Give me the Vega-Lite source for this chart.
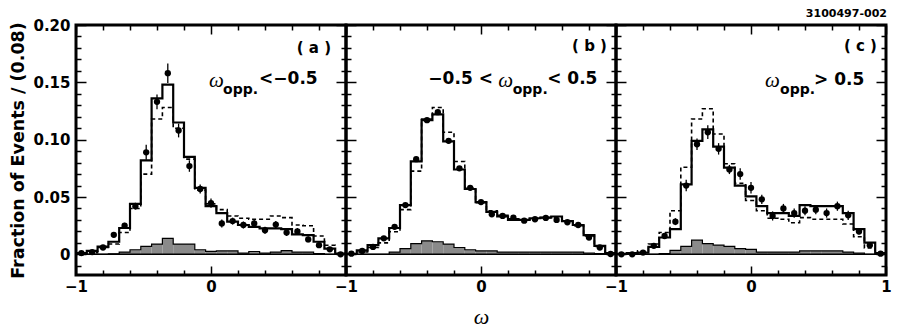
{
  "$schema": "https://vega.github.io/schema/vega-lite/v6.json",
  "padding": {"left": 8, "top": 6, "right": 5, "bottom": 3},
  "background": "white",
  "spacing": 0,
  "bounds": "flush",
  "datasets": {
    "bins": [
      {"panel":"a","x0":-1,"x1":-0.92,"w":-0.96,"data":0.001,"err":0.001,"mc":0.001,"mc2":0.0005,"bkg":0},
      {"panel":"a","x0":-0.92,"x1":-0.84,"w":-0.88,"data":0.002,"err":0.001,"mc":0.003,"mc2":0.0015,"bkg":0},
      {"panel":"a","x0":-0.84,"x1":-0.76,"w":-0.8,"data":0.006,"err":0.0015,"mc":0.0068,"mc2":0.006,"bkg":0},
      {"panel":"a","x0":-0.76,"x1":-0.68,"w":-0.72,"data":0.017,"err":0.002,"mc":0.011,"mc2":0.009,"bkg":0.0005},
      {"panel":"a","x0":-0.68,"x1":-0.6,"w":-0.64,"data":0.025,"err":0.0025,"mc":0.023,"mc2":0.019,"bkg":0.002},
      {"panel":"a","x0":-0.6,"x1":-0.52,"w":-0.56,"data":0.042,"err":0.003,"mc":0.044,"mc2":0.04,"bkg":0.004},
      {"panel":"a","x0":-0.52,"x1":-0.44,"w":-0.48,"data":0.089,"err":0.0065,"mc":0.082,"mc2":0.07,"bkg":0.007},
      {"panel":"a","x0":-0.44,"x1":-0.36,"w":-0.4,"data":0.133,"err":0.0065,"mc":0.136,"mc2":0.118,"bkg":0.009},
      {"panel":"a","x0":-0.36,"x1":-0.28,"w":-0.32,"data":0.158,"err":0.0085,"mc":0.148,"mc2":0.128,"bkg":0.014},
      {"panel":"a","x0":-0.28,"x1":-0.2,"w":-0.24,"data":0.108,"err":0.006,"mc":0.115,"mc2":0.11,"bkg":0.009},
      {"panel":"a","x0":-0.2,"x1":-0.12,"w":-0.16,"data":0.077,"err":0.005,"mc":0.085,"mc2":0.083,"bkg":0.009},
      {"panel":"a","x0":-0.12,"x1":-0.04,"w":-0.08,"data":0.057,"err":0.004,"mc":0.058,"mc2":0.056,"bkg":0.004},
      {"panel":"a","x0":-0.04,"x1":0.04,"w":0,"data":0.0447,"err":0.004,"mc":0.042,"mc2":0.044,"bkg":0.0026},
      {"panel":"a","x0":0.04,"x1":0.12,"w":0.08,"data":0.027,"err":0.0035,"mc":0.036,"mc2":0.039,"bkg":0.003},
      {"panel":"a","x0":0.12,"x1":0.2,"w":0.16,"data":0.029,"err":0.003,"mc":0.0285,"mc2":0.0335,"bkg":0.003},
      {"panel":"a","x0":0.2,"x1":0.28,"w":0.24,"data":0.0256,"err":0.003,"mc":0.0256,"mc2":0.0315,"bkg":0.001},
      {"panel":"a","x0":0.28,"x1":0.36,"w":0.32,"data":0.027,"err":0.003,"mc":0.024,"mc2":0.0306,"bkg":0.0025},
      {"panel":"a","x0":0.36,"x1":0.44,"w":0.4,"data":0.021,"err":0.003,"mc":0.0226,"mc2":0.0306,"bkg":0.001},
      {"panel":"a","x0":0.44,"x1":0.52,"w":0.48,"data":0.026,"err":0.003,"mc":0.0226,"mc2":0.0335,"bkg":0.002},
      {"panel":"a","x0":0.52,"x1":0.6,"w":0.56,"data":0.019,"err":0.003,"mc":0.022,"mc2":0.032,"bkg":0.0033},
      {"panel":"a","x0":0.6,"x1":0.68,"w":0.64,"data":0.02,"err":0.003,"mc":0.0174,"mc2":0.0256,"bkg":0.002},
      {"panel":"a","x0":0.68,"x1":0.76,"w":0.72,"data":0.013,"err":0.0025,"mc":0.0168,"mc2":0.025,"bkg":0.002},
      {"panel":"a","x0":0.76,"x1":0.84,"w":0.8,"data":0.008,"err":0.002,"mc":0.011,"mc2":0.016,"bkg":0.0007},
      {"panel":"a","x0":0.84,"x1":0.92,"w":0.88,"data":0.0044,"err":0.0015,"mc":0.005,"mc2":0.008,"bkg":0},
      {"panel":"a","x0":0.92,"x1":1,"w":0.96,"data":0,"err":0.001,"mc":0.0006,"mc2":0.001,"bkg":0},

      {"panel":"b","x0":-1,"x1":-0.92,"w":-0.96,"data":0.0006,"err":0.0005,"mc":0.0005,"mc2":0.0005,"bkg":0},
      {"panel":"b","x0":-0.92,"x1":-0.84,"w":-0.88,"data":0.003,"err":0.0007,"mc":0.0035,"mc2":0.002,"bkg":0},
      {"panel":"b","x0":-0.84,"x1":-0.76,"w":-0.8,"data":0.0065,"err":0.001,"mc":0.008,"mc2":0.006,"bkg":0},
      {"panel":"b","x0":-0.76,"x1":-0.68,"w":-0.72,"data":0.014,"err":0.001,"mc":0.014,"mc2":0.01,"bkg":0},
      {"panel":"b","x0":-0.68,"x1":-0.6,"w":-0.64,"data":0.024,"err":0.0015,"mc":0.023,"mc2":0.0197,"bkg":0.002},
      {"panel":"b","x0":-0.6,"x1":-0.52,"w":-0.56,"data":0.043,"err":0.0015,"mc":0.043,"mc2":0.039,"bkg":0.005},
      {"panel":"b","x0":-0.52,"x1":-0.44,"w":-0.48,"data":0.083,"err":0.002,"mc":0.081,"mc2":0.0726,"bkg":0.0094},
      {"panel":"b","x0":-0.44,"x1":-0.36,"w":-0.4,"data":0.117,"err":0.002,"mc":0.117,"mc2":0.118,"bkg":0.0118},
      {"panel":"b","x0":-0.36,"x1":-0.28,"w":-0.32,"data":0.124,"err":0.002,"mc":0.122,"mc2":0.128,"bkg":0.011},
      {"panel":"b","x0":-0.28,"x1":-0.2,"w":-0.24,"data":0.099,"err":0.002,"mc":0.0985,"mc2":0.1065,"bkg":0.009},
      {"panel":"b","x0":-0.2,"x1":-0.12,"w":-0.16,"data":0.075,"err":0.002,"mc":0.074,"mc2":0.081,"bkg":0.006},
      {"panel":"b","x0":-0.12,"x1":-0.04,"w":-0.08,"data":0.058,"err":0.0015,"mc":0.057,"mc2":0.058,"bkg":0.004},
      {"panel":"b","x0":-0.04,"x1":0.04,"w":0,"data":0.0456,"err":0.0015,"mc":0.0456,"mc2":0.045,"bkg":0.003},
      {"panel":"b","x0":0.04,"x1":0.12,"w":0.08,"data":0.035,"err":0.0015,"mc":0.037,"mc2":0.038,"bkg":0.003},
      {"panel":"b","x0":0.12,"x1":0.2,"w":0.16,"data":0.0335,"err":0.0015,"mc":0.033,"mc2":0.034,"bkg":0.002},
      {"panel":"b","x0":0.2,"x1":0.28,"w":0.24,"data":0.032,"err":0.0012,"mc":0.03,"mc2":0.031,"bkg":0.002},
      {"panel":"b","x0":0.28,"x1":0.36,"w":0.32,"data":0.0294,"err":0.0012,"mc":0.03,"mc2":0.03,"bkg":0.002},
      {"panel":"b","x0":0.36,"x1":0.44,"w":0.4,"data":0.0306,"err":0.0012,"mc":0.0315,"mc2":0.031,"bkg":0.002},
      {"panel":"b","x0":0.44,"x1":0.52,"w":0.48,"data":0.0318,"err":0.0012,"mc":0.032,"mc2":0.032,"bkg":0.002},
      {"panel":"b","x0":0.52,"x1":0.6,"w":0.56,"data":0.03,"err":0.0012,"mc":0.033,"mc2":0.032,"bkg":0.002},
      {"panel":"b","x0":0.6,"x1":0.68,"w":0.64,"data":0.028,"err":0.0012,"mc":0.029,"mc2":0.029,"bkg":0.002},
      {"panel":"b","x0":0.68,"x1":0.76,"w":0.72,"data":0.0256,"err":0.0012,"mc":0.0256,"mc2":0.025,"bkg":0.002},
      {"panel":"b","x0":0.76,"x1":0.84,"w":0.8,"data":0.0147,"err":0.001,"mc":0.0168,"mc2":0.016,"bkg":0.001},
      {"panel":"b","x0":0.84,"x1":0.92,"w":0.88,"data":0.006,"err":0.0008,"mc":0.0074,"mc2":0.007,"bkg":0.0006},
      {"panel":"b","x0":0.92,"x1":1,"w":0.96,"data":0.0003,"err":0.0005,"mc":0.001,"mc2":0.001,"bkg":0},

      {"panel":"c","x0":-1,"x1":-0.92,"w":-0.96,"data":0,"err":0.0008,"mc":0.0005,"mc2":0.0005,"bkg":0},
      {"panel":"c","x0":-0.92,"x1":-0.84,"w":-0.88,"data":0,"err":0.0008,"mc":0.001,"mc2":0.001,"bkg":0},
      {"panel":"c","x0":-0.84,"x1":-0.76,"w":-0.8,"data":0.0015,"err":0.001,"mc":0.0015,"mc2":0.003,"bkg":0},
      {"panel":"c","x0":-0.76,"x1":-0.68,"w":-0.72,"data":0.0074,"err":0.0015,"mc":0.0065,"mc2":0.009,"bkg":0},
      {"panel":"c","x0":-0.68,"x1":-0.6,"w":-0.64,"data":0.016,"err":0.002,"mc":0.0147,"mc2":0.019,"bkg":0.0006},
      {"panel":"c","x0":-0.6,"x1":-0.52,"w":-0.56,"data":0.0285,"err":0.003,"mc":0.022,"mc2":0.038,"bkg":0.0035},
      {"panel":"c","x0":-0.52,"x1":-0.44,"w":-0.48,"data":0.06,"err":0.005,"mc":0.061,"mc2":0.076,"bkg":0.007},
      {"panel":"c","x0":-0.44,"x1":-0.36,"w":-0.4,"data":0.096,"err":0.005,"mc":0.099,"mc2":0.118,"bkg":0.0124},
      {"panel":"c","x0":-0.36,"x1":-0.28,"w":-0.32,"data":0.1065,"err":0.006,"mc":0.109,"mc2":0.127,"bkg":0.0094},
      {"panel":"c","x0":-0.28,"x1":-0.2,"w":-0.24,"data":0.092,"err":0.005,"mc":0.094,"mc2":0.105,"bkg":0.008},
      {"panel":"c","x0":-0.2,"x1":-0.12,"w":-0.16,"data":0.074,"err":0.004,"mc":0.0756,"mc2":0.079,"bkg":0.007},
      {"panel":"c","x0":-0.12,"x1":-0.04,"w":-0.08,"data":0.07,"err":0.005,"mc":0.06,"mc2":0.062,"bkg":0.005},
      {"panel":"c","x0":-0.04,"x1":0.04,"w":0,"data":0.058,"err":0.005,"mc":0.0506,"mc2":0.047,"bkg":0.0044},
      {"panel":"c","x0":0.04,"x1":0.12,"w":0.08,"data":0.048,"err":0.004,"mc":0.042,"mc2":0.038,"bkg":0.002},
      {"panel":"c","x0":0.12,"x1":0.2,"w":0.16,"data":0.0335,"err":0.004,"mc":0.036,"mc2":0.0315,"bkg":0.002},
      {"panel":"c","x0":0.2,"x1":0.28,"w":0.24,"data":0.04,"err":0.004,"mc":0.036,"mc2":0.0306,"bkg":0.002},
      {"panel":"c","x0":0.28,"x1":0.36,"w":0.32,"data":0.036,"err":0.004,"mc":0.0335,"mc2":0.0276,"bkg":0.002},
      {"panel":"c","x0":0.36,"x1":0.44,"w":0.4,"data":0.038,"err":0.004,"mc":0.043,"mc2":0.032,"bkg":0.003},
      {"panel":"c","x0":0.44,"x1":0.52,"w":0.48,"data":0.039,"err":0.004,"mc":0.042,"mc2":0.0306,"bkg":0.003},
      {"panel":"c","x0":0.52,"x1":0.6,"w":0.56,"data":0.036,"err":0.004,"mc":0.042,"mc2":0.0306,"bkg":0.003},
      {"panel":"c","x0":0.6,"x1":0.68,"w":0.64,"data":0.042,"err":0.004,"mc":0.042,"mc2":0.0306,"bkg":0.003},
      {"panel":"c","x0":0.68,"x1":0.76,"w":0.72,"data":0.034,"err":0.004,"mc":0.036,"mc2":0.0265,"bkg":0.002},
      {"panel":"c","x0":0.76,"x1":0.84,"w":0.8,"data":0.02,"err":0.003,"mc":0.022,"mc2":0.0153,"bkg":0.001},
      {"panel":"c","x0":0.84,"x1":0.92,"w":0.88,"data":0.008,"err":0.002,"mc":0.0103,"mc2":0.0056,"bkg":0},
      {"panel":"c","x0":0.92,"x1":1,"w":0.96,"data":0.0006,"err":0.001,"mc":0.001,"mc2":0.0006,"bkg":0}
    ]
  },
  "hconcat": [
    {
      "width": 270, "height": 250,
      "data": {"name": "bins"},
      "transform": [{"filter": "datum.panel === 'a'"}],
      "resolve": {"axis": {"x": "independent", "y": "independent"}},
      "layer": [
        {
          "mark": {"type": "rect", "fill": "#8a8a8a"},
          "encoding": {
            "x": {"field": "x0", "type": "quantitative", "scale": {"domain": [-1, 1], "nice": false, "zero": false},
              "axis": {"orient": "bottom", "values": [-1, -0.8, -0.6, -0.4, -0.2, 0, 0.2, 0.4, 0.6, 0.8, 1],
                "labelExpr": "abs(datum.value+1)<1e-9 ? '−1' : (abs(datum.value)<1e-9 ? '0' : '')",
                "tickSize": {"condition": {"test": "abs(datum.value)<1e-9 || abs(abs(datum.value)-1)<1e-9", "value": -9}, "value": -5},
                "tickWidth": 1.5, "tickColor": "black", "domain": false, "grid": false, "labelPadding": 13,
                "labelFont": "DejaVu Sans", "labelFontSize": 15, "labelFontWeight": "bold", "labelColor": "black",
                "labelFlush": false, "labelOverlap": false, "labelBound": false, "title": null}},
            "x2": {"field": "x1"},
            "y": {"field": "bkg", "type": "quantitative", "scale": {"domain": [-0.018, 0.2], "nice": false, "zero": false},
              "axis": {"orient": "left", "values": [-0.01, 0, 0.01, 0.02, 0.03, 0.04, 0.05, 0.06, 0.07, 0.08, 0.09, 0.1, 0.11, 0.12, 0.13, 0.14, 0.15, 0.16, 0.17, 0.18, 0.19, 0.2],
                "labelExpr": "abs(datum.value)<1e-9 ? '0' : ((abs(datum.value*20-round(datum.value*20))<1e-6 && datum.value > 0) ? format(datum.value, '.2f') : '')",
                "tickSize": {"condition": {"test": "abs(datum.value*20-round(datum.value*20))<1e-6", "value": -10}, "value": -5},
                "tickWidth": 1.5, "tickColor": "black", "domain": false, "grid": false, "labelPadding": 16,
                "labelFont": "DejaVu Sans", "labelFontSize": 15, "labelFontWeight": "bold", "labelColor": "black",
                "labelOverlap": false, "labelBound": false, "labelFlush": false,
                "title": "Fraction of Events / (0.08)", "titleFont": "DejaVu Sans", "titleFontSize": 17.5, "titleFontWeight": "bold",
                "titleColor": "black", "titleBaseline": "alphabetic", "titlePadding": 9}},
            "y2": {"datum": 0}
          }
        },
        {
          "transform": [{"filter": "datum.x0 === -1"}],
          "mark": {"type": "rule", "color": "black", "strokeWidth": 1.5},
          "encoding": {"y": {"datum": 0, "type": "quantitative", "axis": null}}
        },
        {
          "transform": [{"fold": ["x0", "x1"], "as": ["edge", "xe"]}],
          "mark": {"type": "line", "color": "black", "strokeWidth": 1.2},
          "encoding": {
            "x": {"field": "xe", "type": "quantitative",
              "axis": {"orient": "top", "values": [-1, -0.8, -0.6, -0.4, -0.2, 0, 0.2, 0.4, 0.6, 0.8, 1], "labels": false,
                "tickSize": {"condition": {"test": "abs(datum.value)<1e-9 || abs(abs(datum.value)-1)<1e-9", "value": -9}, "value": -5},
                "tickWidth": 1.5, "tickColor": "black", "domain": false, "grid": false, "title": null}},
            "y": {"field": "bkg", "type": "quantitative",
              "axis": {"orient": "right", "values": [-0.01, 0, 0.01, 0.02, 0.03, 0.04, 0.05, 0.06, 0.07, 0.08, 0.09, 0.1, 0.11, 0.12, 0.13, 0.14, 0.15, 0.16, 0.17, 0.18, 0.19, 0.2], "labels": false,
                "tickSize": {"condition": {"test": "abs(datum.value*20-round(datum.value*20))<1e-6", "value": -10}, "value": -5},
                "tickWidth": 1.5, "tickColor": "black", "domain": false, "grid": false, "title": null}},
            "order": [{"field": "x0", "type": "quantitative"}, {"field": "edge", "type": "nominal"}]
          }
        },
        {
          "transform": [{"fold": ["x0", "x1"], "as": ["edge", "xe"]}],
          "mark": {"type": "line", "color": "black", "strokeWidth": 1.6, "strokeDash": [4, 3]},
          "encoding": {
            "x": {"field": "xe", "type": "quantitative", "axis": null},
            "y": {"field": "mc2", "type": "quantitative", "axis": null},
            "order": [{"field": "x0", "type": "quantitative"}, {"field": "edge", "type": "nominal"}]
          }
        },
        {
          "transform": [{"fold": ["x0", "x1"], "as": ["edge", "xe"]}],
          "mark": {"type": "line", "color": "black", "strokeWidth": 2.2},
          "encoding": {
            "x": {"field": "xe", "type": "quantitative", "axis": null},
            "y": {"field": "mc", "type": "quantitative", "axis": null},
            "order": [{"field": "x0", "type": "quantitative"}, {"field": "edge", "type": "nominal"}]
          }
        },
        {
          "mark": {"type": "errorbar", "color": "black", "thickness": 1.3},
          "encoding": {
            "x": {"field": "w", "type": "quantitative", "axis": null},
            "y": {"field": "data", "type": "quantitative", "axis": null},
            "yError": {"field": "err"}
          }
        },
        {
          "mark": {"type": "circle", "color": "black", "opacity": 1, "size": 40},
          "encoding": {
            "x": {"field": "w", "type": "quantitative", "axis": null},
            "y": {"field": "data", "type": "quantitative", "axis": null}
          }
        },
        {
          "transform": [{"filter": "datum.x0 === -1"}],
          "mark": {"type": "text", "font": "DejaVu Sans", "fontWeight": "bold", "fontSize": 15, "align": "right", "baseline": "alphabetic", "color": "black"},
          "encoding": {"x": {"datum": 0.889, "type": "quantitative", "axis": null}, "y": {"datum": 0.1755, "type": "quantitative", "axis": null}, "text": {"value": "( a )"}}
        },
        {
          "transform": [{"filter": "datum.x0 === -1"}],
          "mark": {"type": "text", "font": "Liberation Serif", "fontStyle": "italic", "fontSize": 21, "align": "left", "baseline": "alphabetic", "color": "black"},
          "encoding": {"x": {"datum": -0.015, "type": "quantitative", "axis": null}, "y": {"datum": 0.146, "type": "quantitative", "axis": null}, "text": {"value": "ω"}}
        },
        {
          "transform": [{"filter": "datum.x0 === -1"}],
          "mark": {"type": "text", "font": "DejaVu Sans", "fontWeight": "bold", "fontSize": 14, "align": "left", "baseline": "alphabetic", "color": "black"},
          "encoding": {"x": {"datum": 0.089, "type": "quantitative", "axis": null}, "y": {"datum": 0.14, "type": "quantitative", "axis": null}, "text": {"value": "opp."}}
        },
        {
          "transform": [{"filter": "datum.x0 === -1"}],
          "mark": {"type": "text", "font": "DejaVu Sans", "fontWeight": "bold", "fontSize": 17, "align": "left", "baseline": "alphabetic", "color": "black"},
          "encoding": {"x": {"datum": 0.356, "type": "quantitative", "axis": null}, "y": {"datum": 0.1486, "type": "quantitative", "axis": null}, "text": {"value": "<−0.5"}}
        }
      ]
    },
    {
      "width": 270, "height": 250,
      "data": {"name": "bins"},
      "transform": [{"filter": "datum.panel === 'b'"}],
      "resolve": {"axis": {"x": "independent", "y": "independent"}},
      "layer": [
        {
          "mark": {"type": "rect", "fill": "#8a8a8a"},
          "encoding": {
            "x": {"field": "x0", "type": "quantitative", "scale": {"domain": [-1, 1], "nice": false, "zero": false},
              "axis": {"orient": "bottom", "values": [-1, -0.8, -0.6, -0.4, -0.2, 0, 0.2, 0.4, 0.6, 0.8, 1],
                "labelExpr": "abs(datum.value+1)<1e-9 ? '−1' : (abs(datum.value)<1e-9 ? '0' : '')",
                "tickSize": {"condition": {"test": "abs(datum.value)<1e-9 || abs(abs(datum.value)-1)<1e-9", "value": -9}, "value": -5},
                "tickWidth": 1.5, "tickColor": "black", "domain": false, "grid": false, "labelPadding": 13,
                "labelFont": "DejaVu Sans", "labelFontSize": 15, "labelFontWeight": "bold", "labelColor": "black",
                "labelFlush": false, "labelOverlap": false, "labelBound": false,
                "title": "ω", "titleFont": "Liberation Serif", "titleFontStyle": "italic", "titleFontWeight": "normal",
                "titleFontSize": 22, "titleColor": "black", "titleBaseline": "alphabetic", "titlePadding": 25}},
            "x2": {"field": "x1"},
            "y": {"field": "bkg", "type": "quantitative", "scale": {"domain": [-0.018, 0.2], "nice": false, "zero": false},
              "axis": {"orient": "left", "values": [-0.01, 0, 0.01, 0.02, 0.03, 0.04, 0.05, 0.06, 0.07, 0.08, 0.09, 0.1, 0.11, 0.12, 0.13, 0.14, 0.15, 0.16, 0.17, 0.18, 0.19, 0.2], "labels": false,
                "tickSize": {"condition": {"test": "abs(datum.value*20-round(datum.value*20))<1e-6", "value": -10}, "value": -5},
                "tickWidth": 1.5, "tickColor": "black", "domain": false, "grid": false, "title": null}},
            "y2": {"datum": 0}
          }
        },
        {
          "transform": [{"filter": "datum.x0 === -1"}],
          "mark": {"type": "rule", "color": "black", "strokeWidth": 1.5},
          "encoding": {"y": {"datum": 0, "type": "quantitative", "axis": null}}
        },
        {
          "transform": [{"fold": ["x0", "x1"], "as": ["edge", "xe"]}],
          "mark": {"type": "line", "color": "black", "strokeWidth": 1.2},
          "encoding": {
            "x": {"field": "xe", "type": "quantitative",
              "axis": {"orient": "top", "values": [-1, -0.8, -0.6, -0.4, -0.2, 0, 0.2, 0.4, 0.6, 0.8, 1], "labels": false,
                "tickSize": {"condition": {"test": "abs(datum.value)<1e-9 || abs(abs(datum.value)-1)<1e-9", "value": -9}, "value": -5},
                "tickWidth": 1.5, "tickColor": "black", "domain": false, "grid": false, "title": null}},
            "y": {"field": "bkg", "type": "quantitative",
              "axis": {"orient": "right", "values": [-0.01, 0, 0.01, 0.02, 0.03, 0.04, 0.05, 0.06, 0.07, 0.08, 0.09, 0.1, 0.11, 0.12, 0.13, 0.14, 0.15, 0.16, 0.17, 0.18, 0.19, 0.2], "labels": false,
                "tickSize": {"condition": {"test": "abs(datum.value*20-round(datum.value*20))<1e-6", "value": -10}, "value": -5},
                "tickWidth": 1.5, "tickColor": "black", "domain": false, "grid": false, "title": null}},
            "order": [{"field": "x0", "type": "quantitative"}, {"field": "edge", "type": "nominal"}]
          }
        },
        {
          "transform": [{"fold": ["x0", "x1"], "as": ["edge", "xe"]}],
          "mark": {"type": "line", "color": "black", "strokeWidth": 1.6, "strokeDash": [4, 3]},
          "encoding": {
            "x": {"field": "xe", "type": "quantitative", "axis": null},
            "y": {"field": "mc2", "type": "quantitative", "axis": null},
            "order": [{"field": "x0", "type": "quantitative"}, {"field": "edge", "type": "nominal"}]
          }
        },
        {
          "transform": [{"fold": ["x0", "x1"], "as": ["edge", "xe"]}],
          "mark": {"type": "line", "color": "black", "strokeWidth": 2.2},
          "encoding": {
            "x": {"field": "xe", "type": "quantitative", "axis": null},
            "y": {"field": "mc", "type": "quantitative", "axis": null},
            "order": [{"field": "x0", "type": "quantitative"}, {"field": "edge", "type": "nominal"}]
          }
        },
        {
          "mark": {"type": "errorbar", "color": "black", "thickness": 1.3},
          "encoding": {
            "x": {"field": "w", "type": "quantitative", "axis": null},
            "y": {"field": "data", "type": "quantitative", "axis": null},
            "yError": {"field": "err"}
          }
        },
        {
          "mark": {"type": "circle", "color": "black", "opacity": 1, "size": 40},
          "encoding": {
            "x": {"field": "w", "type": "quantitative", "axis": null},
            "y": {"field": "data", "type": "quantitative", "axis": null}
          }
        },
        {
          "transform": [{"filter": "datum.x0 === -1"}],
          "mark": {"type": "text", "font": "DejaVu Sans", "fontWeight": "bold", "fontSize": 15, "align": "right", "baseline": "alphabetic", "color": "black"},
          "encoding": {"x": {"datum": 0.933, "type": "quantitative", "axis": null}, "y": {"datum": 0.1776, "type": "quantitative", "axis": null}, "text": {"value": "( b )"}}
        },
        {
          "transform": [{"filter": "datum.x0 === -1"}],
          "mark": {"type": "text", "font": "DejaVu Sans", "fontWeight": "bold", "fontSize": 17, "align": "left", "baseline": "alphabetic", "color": "black"},
          "encoding": {"x": {"datum": -0.39, "type": "quantitative", "axis": null}, "y": {"datum": 0.1486, "type": "quantitative", "axis": null}, "text": {"value": "−0.5 <"}}
        },
        {
          "transform": [{"filter": "datum.x0 === -1"}],
          "mark": {"type": "text", "font": "Liberation Serif", "fontStyle": "italic", "fontSize": 21, "align": "left", "baseline": "alphabetic", "color": "black"},
          "encoding": {"x": {"datum": 0.128, "type": "quantitative", "axis": null}, "y": {"datum": 0.146, "type": "quantitative", "axis": null}, "text": {"value": "ω"}}
        },
        {
          "transform": [{"filter": "datum.x0 === -1"}],
          "mark": {"type": "text", "font": "DejaVu Sans", "fontWeight": "bold", "fontSize": 14, "align": "left", "baseline": "alphabetic", "color": "black"},
          "encoding": {"x": {"datum": 0.235, "type": "quantitative", "axis": null}, "y": {"datum": 0.14, "type": "quantitative", "axis": null}, "text": {"value": "opp."}}
        },
        {
          "transform": [{"filter": "datum.x0 === -1"}],
          "mark": {"type": "text", "font": "DejaVu Sans", "fontWeight": "bold", "fontSize": 17, "align": "left", "baseline": "alphabetic", "color": "black"},
          "encoding": {"x": {"datum": 0.49, "type": "quantitative", "axis": null}, "y": {"datum": 0.1486, "type": "quantitative", "axis": null}, "text": {"value": "< 0.5"}}
        }
      ]
    },
    {
      "width": 270, "height": 250,
      "data": {"name": "bins"},
      "transform": [{"filter": "datum.panel === 'c'"}],
      "resolve": {"axis": {"x": "independent", "y": "independent"}},
      "layer": [
        {
          "mark": {"type": "rect", "fill": "#8a8a8a"},
          "encoding": {
            "x": {"field": "x0", "type": "quantitative", "scale": {"domain": [-1, 1], "nice": false, "zero": false},
              "axis": {"orient": "bottom", "values": [-1, -0.8, -0.6, -0.4, -0.2, 0, 0.2, 0.4, 0.6, 0.8, 1],
                "labelExpr": "abs(datum.value+1)<1e-9 ? '−1' : (abs(datum.value)<1e-9 ? '0' : (abs(datum.value-1)<1e-9 ? '1' : ''))",
                "tickSize": {"condition": {"test": "abs(datum.value)<1e-9 || abs(abs(datum.value)-1)<1e-9", "value": -9}, "value": -5},
                "tickWidth": 1.5, "tickColor": "black", "domain": false, "grid": false, "labelPadding": 13,
                "labelFont": "DejaVu Sans", "labelFontSize": 15, "labelFontWeight": "bold", "labelColor": "black",
                "labelFlush": false, "labelOverlap": false, "labelBound": false, "title": null}},
            "x2": {"field": "x1"},
            "y": {"field": "bkg", "type": "quantitative", "scale": {"domain": [-0.018, 0.2], "nice": false, "zero": false},
              "axis": {"orient": "left", "values": [-0.01, 0, 0.01, 0.02, 0.03, 0.04, 0.05, 0.06, 0.07, 0.08, 0.09, 0.1, 0.11, 0.12, 0.13, 0.14, 0.15, 0.16, 0.17, 0.18, 0.19, 0.2], "labels": false,
                "tickSize": {"condition": {"test": "abs(datum.value*20-round(datum.value*20))<1e-6", "value": -10}, "value": -5},
                "tickWidth": 1.5, "tickColor": "black", "domain": false, "grid": false, "title": null}},
            "y2": {"datum": 0}
          }
        },
        {
          "transform": [{"filter": "datum.x0 === -1"}],
          "mark": {"type": "rule", "color": "black", "strokeWidth": 1.5},
          "encoding": {"y": {"datum": 0, "type": "quantitative", "axis": null}}
        },
        {
          "transform": [{"fold": ["x0", "x1"], "as": ["edge", "xe"]}],
          "mark": {"type": "line", "color": "black", "strokeWidth": 1.2},
          "encoding": {
            "x": {"field": "xe", "type": "quantitative",
              "axis": {"orient": "top", "values": [-1, -0.8, -0.6, -0.4, -0.2, 0, 0.2, 0.4, 0.6, 0.8, 1], "labels": false,
                "tickSize": {"condition": {"test": "abs(datum.value)<1e-9 || abs(abs(datum.value)-1)<1e-9", "value": -9}, "value": -5},
                "tickWidth": 1.5, "tickColor": "black", "domain": false, "grid": false, "title": null}},
            "y": {"field": "bkg", "type": "quantitative",
              "axis": {"orient": "right", "values": [-0.01, 0, 0.01, 0.02, 0.03, 0.04, 0.05, 0.06, 0.07, 0.08, 0.09, 0.1, 0.11, 0.12, 0.13, 0.14, 0.15, 0.16, 0.17, 0.18, 0.19, 0.2], "labels": false,
                "tickSize": {"condition": {"test": "abs(datum.value*20-round(datum.value*20))<1e-6", "value": -10}, "value": -5},
                "tickWidth": 1.5, "tickColor": "black", "domain": false, "grid": false, "title": null}},
            "order": [{"field": "x0", "type": "quantitative"}, {"field": "edge", "type": "nominal"}]
          }
        },
        {
          "transform": [{"fold": ["x0", "x1"], "as": ["edge", "xe"]}],
          "mark": {"type": "line", "color": "black", "strokeWidth": 1.6, "strokeDash": [4, 3]},
          "encoding": {
            "x": {"field": "xe", "type": "quantitative", "axis": null},
            "y": {"field": "mc2", "type": "quantitative", "axis": null},
            "order": [{"field": "x0", "type": "quantitative"}, {"field": "edge", "type": "nominal"}]
          }
        },
        {
          "transform": [{"fold": ["x0", "x1"], "as": ["edge", "xe"]}],
          "mark": {"type": "line", "color": "black", "strokeWidth": 2.2},
          "encoding": {
            "x": {"field": "xe", "type": "quantitative", "axis": null},
            "y": {"field": "mc", "type": "quantitative", "axis": null},
            "order": [{"field": "x0", "type": "quantitative"}, {"field": "edge", "type": "nominal"}]
          }
        },
        {
          "mark": {"type": "errorbar", "color": "black", "thickness": 1.3},
          "encoding": {
            "x": {"field": "w", "type": "quantitative", "axis": null},
            "y": {"field": "data", "type": "quantitative", "axis": null},
            "yError": {"field": "err"}
          }
        },
        {
          "mark": {"type": "circle", "color": "black", "opacity": 1, "size": 40},
          "encoding": {
            "x": {"field": "w", "type": "quantitative", "axis": null},
            "y": {"field": "data", "type": "quantitative", "axis": null}
          }
        },
        {
          "transform": [{"filter": "datum.x0 === -1"}],
          "mark": {"type": "text", "font": "DejaVu Sans", "fontWeight": "bold", "fontSize": 15, "align": "right", "baseline": "alphabetic", "color": "black"},
          "encoding": {"x": {"datum": 0.933, "type": "quantitative", "axis": null}, "y": {"datum": 0.1776, "type": "quantitative", "axis": null}, "text": {"value": "( c )"}}
        },
        {
          "transform": [{"filter": "datum.x0 === -1"}],
          "mark": {"type": "text", "font": "Liberation Serif", "fontStyle": "italic", "fontSize": 21, "align": "left", "baseline": "alphabetic", "color": "black"},
          "encoding": {"x": {"datum": 0.104, "type": "quantitative", "axis": null}, "y": {"datum": 0.146, "type": "quantitative", "axis": null}, "text": {"value": "ω"}}
        },
        {
          "transform": [{"filter": "datum.x0 === -1"}],
          "mark": {"type": "text", "font": "DejaVu Sans", "fontWeight": "bold", "fontSize": 14, "align": "left", "baseline": "alphabetic", "color": "black"},
          "encoding": {"x": {"datum": 0.215, "type": "quantitative", "axis": null}, "y": {"datum": 0.14, "type": "quantitative", "axis": null}, "text": {"value": "opp."}}
        },
        {
          "transform": [{"filter": "datum.x0 === -1"}],
          "mark": {"type": "text", "font": "DejaVu Sans", "fontWeight": "bold", "fontSize": 17, "align": "left", "baseline": "alphabetic", "color": "black"},
          "encoding": {"x": {"datum": 0.467, "type": "quantitative", "axis": null}, "y": {"datum": 0.1477, "type": "quantitative", "axis": null}, "text": {"value": "> 0.5"}}
        },
        {
          "transform": [{"filter": "datum.x0 === -1"}],
          "mark": {"type": "text", "font": "DejaVu Sans", "fontWeight": "bold", "fontSize": 11, "align": "right", "baseline": "alphabetic", "color": "black"},
          "encoding": {"x": {"datum": 1.007, "type": "quantitative", "axis": null}, "y": {"datum": 0.207, "type": "quantitative", "axis": null}, "text": {"value": "3100497-002"}}
        }
      ]
    }
  ],
  "config": {
    "view": {"stroke": "black", "strokeWidth": 3},
    "concat": {"spacing": 0}
  }
}
